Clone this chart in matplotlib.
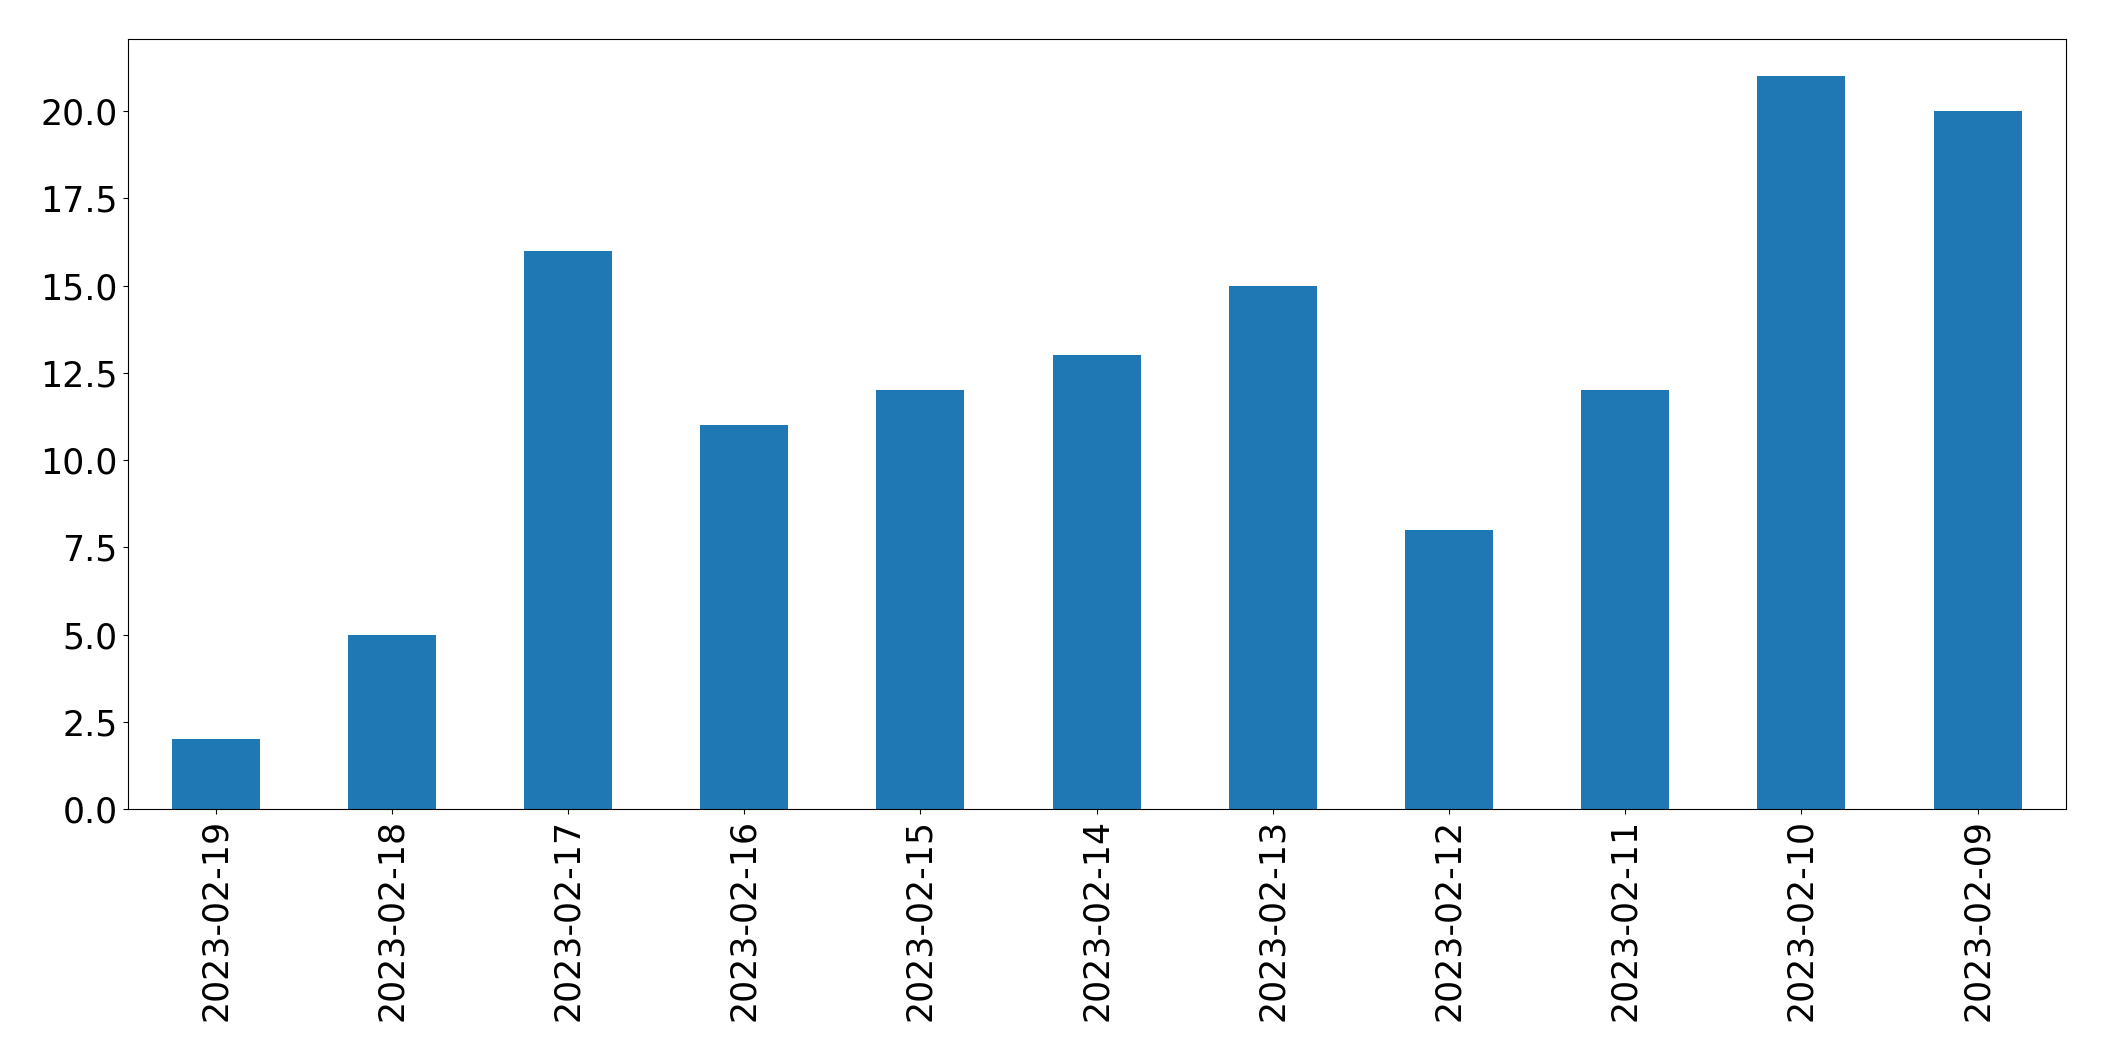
import matplotlib
matplotlib.use('Agg')
import matplotlib.pyplot as plt
import numpy as np

# 每日数量
dates = ['2023-02-19', '2023-02-18', '2023-02-17', '2023-02-16', '2023-02-15', '2023-02-14',
         '2023-02-13', '2023-02-12', '2023-02-11', '2023-02-10', '2023-02-09']
counts = [2, 5, 16, 11, 12, 13, 15, 8, 12, 21, 20]

fig, ax = plt.subplots(figsize=(21.04, 10.61), dpi=100)
x = np.arange(len(dates))
ax.bar(x, counts, width=0.5, color='#1f77b4')
ax.set_xticks(x)
ax.set_xticklabels(dates, rotation=90)
ax.set_xlim(-0.5, len(dates) - 0.5)
ax.tick_params(labelsize=25)
plt.subplots_adjust(left=0.0606, right=0.9818, top=0.9628, bottom=0.2375)
plt.savefig('out.png')
